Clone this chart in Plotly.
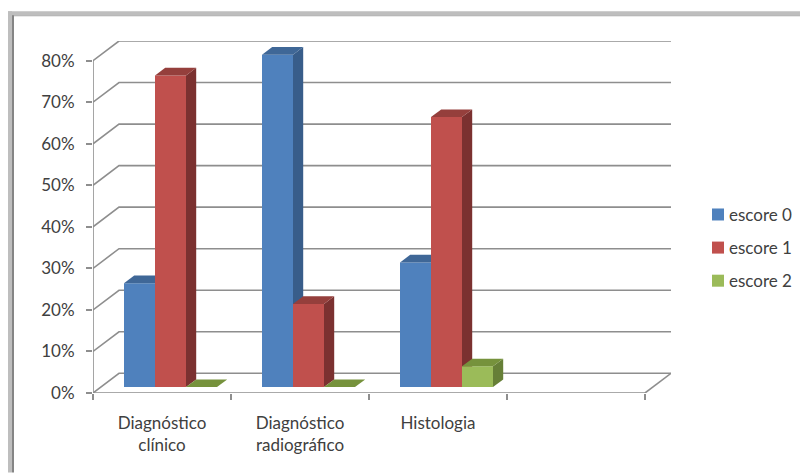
import plotly.graph_objects as go

# Share of cases per score, in percent
categories = ["Diagnóstico<br>clínico", "Diagnóstico<br>radiográfico", "Histologia"]
escore_0 = [25, 80, 30]
escore_1 = [75, 20, 65]
escore_2 = [0, 0, 5]
tick_values = [0, 10, 20, 30, 40, 50, 60, 70, 80]
series_names = ["escore 0", "escore 1", "escore 2"]

# Face colours per series: front, top, side
FRONT = ["#4F81BD", "#C0504D", "#9BBB59"]
TOP = ["#3F6797", "#953F3C", "#76923C"]
SIDE = ["#385D8A", "#7B3130", "#667F37"]

WIDTH, HEIGHT = 800, 473
PX_X = 138        # pixels per category
PX_Y = 4.159      # pixels per percent
ORIGIN_X, ORIGIN_Y = 93, 393.3

# Oblique projection offsets, in axis units
WALL_DX, WALL_DY = 26 / PX_X, 19.7 / PX_Y
BAR_DX, BAR_DY = 10.2 / PX_X, 7.6 / PX_Y
BAR_BASE = 6 / PX_Y
BAR_W = 31 / PX_X
BAR_START = 31 / PX_X

# The axes also span the receding wall, so the depth stays inside the plot area
X_RANGE = [0, 4 + WALL_DX]
Y_RANGE = [0, 80 + WALL_DY]
M_L = ORIGIN_X
M_B = HEIGHT - ORIGIN_Y
M_R = WIDTH - ORIGIN_X - X_RANGE[1] * PX_X
M_T = ORIGIN_Y - Y_RANGE[1] * PX_Y

GRID = "#8E8E8E"
TEXT = "#404040"
FONT = "Lato"

fig = go.Figure()

# Back wall, floor and the two front axis lines
grid_x, grid_y = [], []
for t in tick_values:
    grid_x += [0, WALL_DX, 4 + WALL_DX, None]
    grid_y += [t, t + WALL_DY, t + WALL_DY, None]
grid_x += [4, 4 + WALL_DX, None, 0, 4, None, 0, 0]
grid_y += [0, WALL_DY, None, 0, 0, None, 0, tick_values[-1]]
fig.add_trace(go.Scatter(
    x=grid_x, y=grid_y, mode="lines", line=dict(color=GRID, width=1.6),
    cliponaxis=False, showlegend=False, hoverinfo="skip",
))

# One overlaid axis pair per series so that each series paints over the previous one
for s, values in enumerate([escore_0, escore_1, escore_2]):
    ax = s + 2
    xa, ya = f"x{ax}", f"y{ax}"
    lefts = [i + BAR_START + s * BAR_W for i in range(len(values))]
    fig.add_trace(go.Bar(
        x=[l + BAR_W / 2 for l in lefts], y=values, base=BAR_BASE, width=BAR_W,
        name=series_names[s], legendgroup=series_names[s],
        marker=dict(color=FRONT[s], line=dict(width=0)),
        cliponaxis=False, xaxis=xa, yaxis=ya, hoverinfo="skip",
    ))
    for l, v in zip(lefts, values):
        r = l + BAR_W
        low, high = BAR_BASE, BAR_BASE + v
        if v > 0:
            fig.add_trace(go.Scatter(
                x=[r, r + BAR_DX, r + BAR_DX, r, r],
                y=[low, low + BAR_DY, high + BAR_DY, high, low],
                mode="lines", fill="toself", fillcolor=SIDE[s], line=dict(width=0),
                cliponaxis=False, showlegend=False, hoverinfo="skip", xaxis=xa, yaxis=ya,
            ))
        fig.add_trace(go.Scatter(
            x=[l, r, r + BAR_DX, l + BAR_DX, l],
            y=[high, high, high + BAR_DY, high + BAR_DY, high],
            mode="lines", fill="toself", fillcolor=TOP[s], line=dict(width=0),
            cliponaxis=False, showlegend=False, hoverinfo="skip", xaxis=xa, yaxis=ya,
        ))


def frame_x(px):
    return (px - M_L) / (WIDTH - M_L - M_R)


def frame_y(py):
    return 1 - (py - M_T) / (HEIGHT - M_T - M_B)


def frame_rect(x0, y0, x1, y1, color):
    return dict(type="rect", xref="paper", yref="paper", layer="below", line=dict(width=0),
                fillcolor=color, x0=frame_x(x0), x1=frame_x(x1), y0=frame_y(y0), y1=frame_y(y1))


# Light outer band of the chart frame with a darker inner edge
frame_shapes = [
    frame_rect(8, 11, WIDTH, 15, "#BEBEBE"),
    frame_rect(8, 11, 12, HEIGHT, "#BEBEBE"),
    frame_rect(12, 15, WIDTH, 16, "#A6A6A6"),
    frame_rect(12, 15, 14, HEIGHT, "#858585"),
]

hidden = dict(visible=False, range=X_RANGE, matches="x", overlaying="x")
hidden_y = dict(visible=False, range=Y_RANGE, matches="y", overlaying="y")

fig.update_layout(
    width=WIDTH, height=HEIGHT, autosize=False,
    margin=dict(l=M_L, r=M_R, t=M_T, b=M_B, autoexpand=False),
    paper_bgcolor="white", plot_bgcolor="rgba(0,0,0,0)",
    barmode="overlay", shapes=frame_shapes,
    font=dict(family=FONT, size=17, color=TEXT),
    xaxis=dict(
        range=X_RANGE, tickmode="array",
        tickvals=[i + 0.5 for i in range(len(categories))], ticktext=categories,
        ticks="", showgrid=False, zeroline=False, showline=False,
        ticklabelstandoff=18,
        minor=dict(tickmode="array", tickvals=[0, 1, 2, 3, 4], ticks="outside",
                   ticklen=6, tickwidth=1.5, tickcolor=GRID, showgrid=False),
        tickfont=dict(family=FONT, size=17, color=TEXT),
    ),
    yaxis=dict(
        range=Y_RANGE, tickmode="array", tickvals=tick_values,
        ticktext=[f"{t}%" for t in tick_values],
        ticks="outside", ticklen=6, tickwidth=1.5, tickcolor=GRID,
        showgrid=False, zeroline=False, showline=False,
        ticklabelstandoff=8,
        tickfont=dict(family=FONT, size=17, color=TEXT),
    ),
    xaxis2=hidden, xaxis3=hidden, xaxis4=hidden,
    yaxis2=hidden_y, yaxis3=hidden_y, yaxis4=hidden_y,
    legend=dict(
        x=frame_x(698), y=frame_y(197), xanchor="left", yanchor="top",
        traceorder="grouped", tracegroupgap=8, indentation=-9, bgcolor="rgba(0,0,0,0)",
        font=dict(family=FONT, size=17, color=TEXT),
    ),
)

# Bring the legend swatches closer to their labels
swatch_nudge = """
document.querySelectorAll('.legend .legendsymbols').forEach(function (g) {
    g.setAttribute('transform', 'translate(9,0)');
});
"""

fig.write_html("out.html", post_script=swatch_nudge)
